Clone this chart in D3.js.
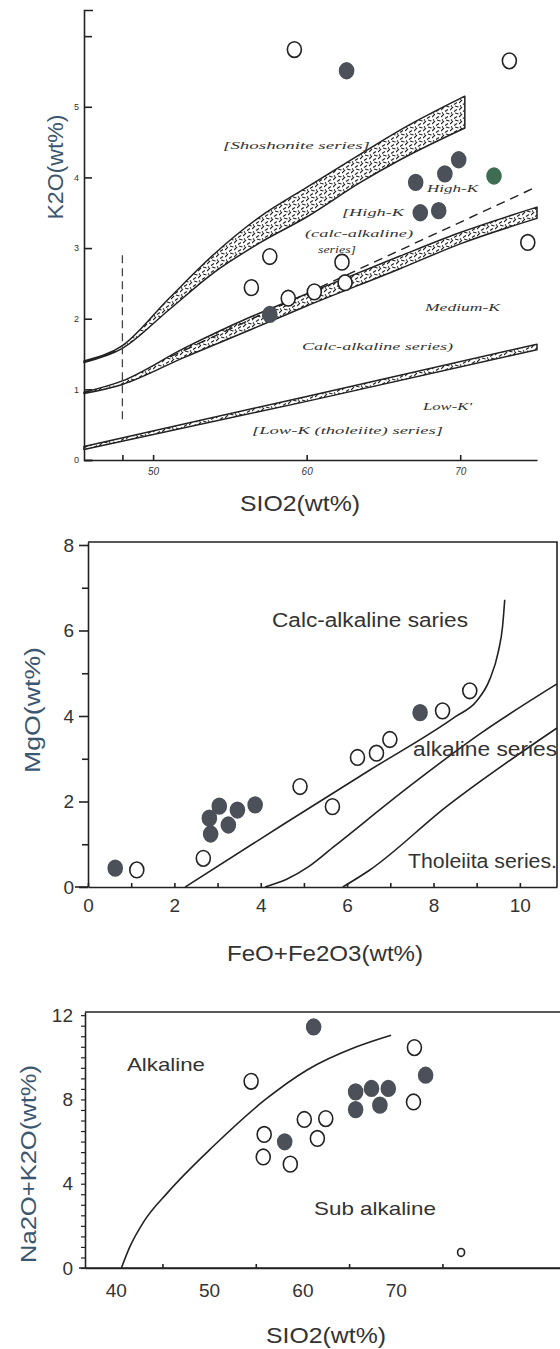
<!DOCTYPE html>
<html><head><meta charset="utf-8">
<script src="https://cdn.jsdelivr.net/npm/d3@7"></script>
<style>body{margin:0;background:#fff} svg{display:block}</style>
</head><body>
<svg id="c" width="560" height="1349"></svg>
<script>
// ---------------- Panel 1: K2O vs SiO2 ----------------
const p1XTicks = [48, 50, 60, 70];
const p1XLabels = [50, 60, 70];
const p1YTicks = [0, 1, 2, 3, 4, 5, 6];
const p1YLabels = [0, 1, 2, 3, 4, 5];
const p1Open = [[59.2,5.81],[73.2,5.65],[57.6,2.88],[56.4,2.44],[58.8,2.29],[60.5,2.38],[62.3,2.80],[62.5,2.51],[74.4,3.08]];
const p1Filled = [[62.6,5.51],[69.9,4.25],[69.0,4.05],[67.1,3.93],[67.4,3.50],[68.6,3.53],[57.6,2.06]];
const p1Green = [[72.2,4.02]];
// band boundaries: [SiO2, upper K2O, lower K2O]
const shoBand = [[45.5,1.40,1.38],[48,1.62,1.58],[51,2.28,2.12],[54,2.92,2.66],[57,3.45,3.08],[60,3.86,3.44],[63.5,4.33,3.93],[66,4.66,4.24],[70.3,5.15,4.70]];
const medBand = [[45.5,0.96,0.94],[48,1.12,1.07],[52,1.58,1.45],[56.3,2.02,1.84],[60,2.35,2.18],[66,2.88,2.70],[70,3.22,3.06],[75,3.58,3.42]];
const lowBand = [[45.5,0.19,0.15],[60,0.90,0.83],[75,1.64,1.56]];
const p1Dashed = [[51.1,1.46],[75,3.87]];
const p1Divider = [[48,2.9],[48,0.53]];

// ---------------- Panel 2: MgO vs FeO+Fe2O3 ----------------
const p2XTicks = [0,1,2,3,4,5,6,7,8,9,10];
const p2XLabels = [0,2,4,6,8,10];
const p2YTicks = [0,1,2,3,4,5,6,7,8];
const p2YLabels = [0,2,4,6,8];
const p2Open = [[1.13,0.40],[2.67,0.67],[4.91,2.35],[5.66,1.88],[6.24,3.03],[6.68,3.13],[6.99,3.45],[8.21,4.12],[8.84,4.59]];
const p2Filled = [[0.63,0.44],[2.84,1.24],[2.81,1.61],[3.04,1.89],[3.25,1.45],[3.46,1.80],[3.87,1.92],[7.69,4.08]];
const calcLine = [[2.25,0],[4.5,1.45],[6.5,2.72],[8.5,3.98],[9.0,4.35],[9.3,4.85],[9.5,5.5],[9.6,6.1],[9.65,6.72]];
const alkLine = [[4.1,0],[4.6,0.18],[5.1,0.47],[5.7,0.95],[7.5,2.4],[9.1,3.6],[10.86,4.75]];
const tholLine = [[5.9,0],[6.5,0.38],[8.3,1.88],[10.86,3.72]];

// ---------------- Panel 3: Na2O+K2O vs SiO2 ----------------
const p3XTicks = [45,55,65,75];
const p3XLabels = [40,50,60,70];
const p3YTicks = d3.range(0, 12.01, 0.5);
const p3YLabels = [0,4,8,12];
const p3Open = [[72.0,10.46],[54.5,8.86],[71.9,7.88],[60.2,7.05],[62.5,7.09],[55.9,6.34],[61.6,6.15],[55.8,5.27],[58.7,4.93]];
const p3Small = [[77.0,0.74]];
const p3Filled = [[61.2,11.44],[73.2,9.15],[65.7,8.36],[67.4,8.52],[69.2,8.52],[65.7,7.52],[68.3,7.73],[58.1,5.99]];
const alkDivide = [[40.6,0],[41.5,1.0],[43,2.2],[45.6,3.6],[50.5,5.8],[55.9,7.95],[60.5,9.4],[65.8,10.5],[69.5,11.05]];

const INK = "#222";
const FILL = "#4b5059";
const TITLE_Y = "#3b5670";
const svg = d3.select("#c");
svg.append("rect").attr("width",560).attr("height",1349).attr("fill","#fff");

// stipple / hatch pattern for bands
const defs = svg.append("defs");
const pat = defs.append("pattern").attr("id","hatch").attr("width",9).attr("height",7)
  .attr("patternUnits","userSpaceOnUse");
pat.append("rect").attr("width",9).attr("height",7).attr("fill","#fff");
pat.append("path").attr("d","M0,5 L3,2 M4,6.5 L7,4.5 M5,1 L8.5,2 M1,0.5 L2,1.5")
  .attr("stroke","#222").attr("stroke-width",1.1).attr("fill","none");

function styleAxis(g, fs, family){
  g.selectAll("path,line").attr("stroke",INK).attr("stroke-width",1.6);
  g.selectAll("text").attr("fill","#333").attr("font-size",fs).attr("font-family",family||"Liberation Sans, Arial, sans-serif");
}
function dots(g, data, x, y, r, fill, stroke){
  g.selectAll(null).data(data).enter().append("ellipse")
    .attr("cx",d=>x(d[0])).attr("cy",d=>y(d[1])).attr("rx",r).attr("ry",r*1.12)
    .attr("fill",fill).attr("stroke",stroke).attr("stroke-width",1.6);
}
function label(g, txt, x, y, opts){
  opts = opts||{};
  const t = g.append("text").attr("x",x).attr("y",y).text(txt)
    .attr("font-family",opts.family||"Liberation Sans, Arial, sans-serif")
    .attr("font-size",opts.size||20).attr("fill",opts.fill||"#333")
    .attr("text-anchor",opts.anchor||"start");
  if(opts.italic) t.attr("font-style","italic");
  if(opts.len) t.attr("textLength",opts.len).attr("lengthAdjust","spacingAndGlyphs");
  if(opts.rot) t.attr("transform",`rotate(${opts.rot},${x},${y})`);
  return t;
}

// ================= Panel 1 =================
{
  const x = d3.scaleLinear().domain([45.5, 75]).range([84, 537]);
  const y = d3.scaleLinear().domain([0, 6.37]).range([460, 10]);
  const g = svg.append("g");
  const area = d3.area().x(d=>x(d[0])).y0(d=>y(d[2])).y1(d=>y(d[1])).curve(d3.curveMonotoneX);
  [shoBand, medBand, lowBand].forEach(B=>{
    g.append("path").attr("d",area(B)).attr("fill","url(#hatch)")
      .attr("stroke",INK).attr("stroke-width",1.5).attr("stroke-linejoin","round");
  });
  const ln = d3.line().x(d=>x(d[0])).y(d=>y(d[1]));
  g.append("path").attr("d",ln(p1Dashed)).attr("stroke",INK).attr("stroke-width",1.4)
    .attr("stroke-dasharray","9,6").attr("fill","none");
  g.append("path").attr("d",ln(p1Divider)).attr("stroke","#444").attr("stroke-width",1.3)
    .attr("stroke-dasharray","8,5").attr("fill","none");

  const ya = g.append("g").attr("transform",`translate(${x(45.5)},0)`)
    .call(d3.axisLeft(y).tickValues(p1YTicks).tickSize(-8).tickSizeOuter(-9).tickPadding(5)
      .tickFormat(d=>p1YLabels.includes(d)?d:""));
  styleAxis(ya, 9);
  const xa = g.append("g").attr("transform",`translate(0,${y(0)})`)
    .call(d3.axisBottom(x).tickValues(p1XTicks).tickSize(-5).tickSizeOuter(0).tickPadding(8)
      .tickFormat(d=>p1XLabels.includes(d)?d:""));
  styleAxis(xa, 10);
  xa.selectAll("text").attr("font-style","italic");

  dots(g, p1Open, x, y, 7, "#fff", INK);
  dots(g, p1Filled, x, y, 7, FILL, FILL);
  dots(g, p1Green, x, y, 7, "#3f6d52", "#3f6d52");

  const it = {family:"Liberation Serif, serif", size:11, italic:true, fill:"#333"};
  label(g,"[Shoshonite series]",223,149,{...it,len:147});
  label(g,"High-K",427,192,{...it,len:51});
  label(g,"[High-K",342,216,{...it,len:62});
  label(g,"(calc-alkaline)",305,237,{...it,len:108});
  label(g,"series]",318,253,{...it,len:38});
  label(g,"Medium-K",425,311,{...it,len:75});
  label(g,"Calc-alkaline series)",302,350,{...it,len:151});
  label(g,"Low-K'",423,410,{...it,len:49});
  label(g,"[Low-K (tholeiite) series]",252,434,{...it,len:191});

  label(g,"K2O(wt%)",63,167,{size:22,fill:TITLE_Y,anchor:"middle",rot:-90,len:105});
  label(g,"SIO2(wt%)",300,511,{size:22,fill:"#333",anchor:"middle",len:120});
}

// ================= Panel 2 =================
{
  const x = d3.scaleLinear().domain([0, 10.86]).range([88, 557]);
  const y = d3.scaleLinear().domain([0, 8.07]).range([887, 542]);
  const g = svg.append("g");
  g.append("path").attr("d",`M${x(0)},${y(8.07)}H${x(10.86)}V${y(0)}`)
    .attr("stroke",INK).attr("stroke-width",1.6).attr("fill","none");
  g.append("line").attr("x1",75).attr("x2",x(0)).attr("y1",y(0)).attr("y2",y(0))
    .attr("stroke",INK).attr("stroke-width",1.6);
  const ln = d3.line().x(d=>x(d[0])).y(d=>y(d[1])).curve(d3.curveMonotoneX);
  [calcLine, alkLine, tholLine].forEach(L=>{
    g.append("path").attr("d",ln(L)).attr("stroke",INK).attr("stroke-width",1.6).attr("fill","none");
  });
  const ya = g.append("g").attr("transform",`translate(${x(0)},0)`)
    .call(d3.axisLeft(y).tickValues(p2YTicks).tickSizeOuter(0).tickPadding(8)
      .tickFormat(d=>p2YLabels.includes(d)?d:""));
  ya.selectAll(".tick line").attr("x2",d=>p2YLabels.includes(d)?-9:-6);
  styleAxis(ya, 19);
  const xa = g.append("g").attr("transform",`translate(0,${y(0)})`)
    .call(d3.axisBottom(x).tickValues(p2XTicks).tickSize(-4).tickSizeOuter(0).tickPadding(12)
      .tickFormat(d=>p2XLabels.includes(d)?d:""));
  styleAxis(xa, 19);

  dots(g, p2Open, x, y, 7, "#fff", INK);
  dots(g, p2Filled, x, y, 7, FILL, FILL);

  label(g,"Calc-alkaline saries",272,627,{size:20,len:196});
  label(g,"alkaline series",413,756,{size:20,len:144});
  label(g,"Tholeiita series.",408,868,{size:20,len:149});
  label(g,"MgO(wt%)",40,710,{size:22,fill:TITLE_Y,anchor:"middle",rot:-90,len:126});
  label(g,"FeO+Fe2O3(wt%)",325,961,{size:22,fill:"#333",anchor:"middle",len:196});
}

// ================= Panel 3 =================
{
  const x = d3.scaleLinear().domain([36.7, 87.6]).range([85, 560]);
  const y = d3.scaleLinear().domain([0, 12.15]).range([1268, 1012]);
  const g = svg.append("g");
  g.append("line").attr("x1",x(36.7)).attr("x2",560).attr("y1",y(12.15)).attr("y2",y(12.15))
    .attr("stroke",INK).attr("stroke-width",1.6);
  g.append("line").attr("x1",79).attr("x2",560).attr("y1",y(0)).attr("y2",y(0))
    .attr("stroke",INK).attr("stroke-width",1.6);
  const ln = d3.line().x(d=>x(d[0])).y(d=>y(d[1])).curve(d3.curveMonotoneX);
  g.append("path").attr("d",ln(alkDivide)).attr("stroke",INK).attr("stroke-width",1.6).attr("fill","none");

  const ya = g.append("g").attr("transform",`translate(${x(36.7)},0)`)
    .call(d3.axisLeft(y).tickValues(p3YTicks).tickSize(4).tickSizeOuter(0).tickPadding(8)
      .tickFormat(d=>p3YLabels.includes(d)?d:""));
  styleAxis(ya, 19);
  ya.selectAll(".tick line").attr("stroke-width",1.2);
  const xa = g.append("g").attr("transform",`translate(0,${y(0)})`)
    .call(d3.axisBottom(x).tickValues(p3XTicks).tickSize(-4).tickSizeOuter(0).tickFormat(""));
  styleAxis(xa, 19);
  const xl = g.append("g").attr("transform",`translate(0,${y(0)})`)
    .call(d3.axisBottom(x).tickValues(p3XLabels).tickSize(0).tickPadding(16));
  xl.select(".domain").remove();
  styleAxis(xl, 19);

  dots(g, p3Open, x, y, 7, "#fff", INK);
  dots(g, p3Small, x, y, 3.5, "#fff", INK);
  dots(g, p3Filled, x, y, 7, FILL, FILL);

  label(g,"Alkaline",127,1071,{size:19,len:78});
  label(g,"Sub alkaline",314,1215,{size:19,len:122});
  label(g,"Na2O+K2O(wt%)",36,1164,{size:22,fill:TITLE_Y,anchor:"middle",rot:-90,len:198});
  label(g,"SIO2(wt%)",326,1343,{size:22,fill:"#333",anchor:"middle",len:120});
}
</script>
</body></html>
